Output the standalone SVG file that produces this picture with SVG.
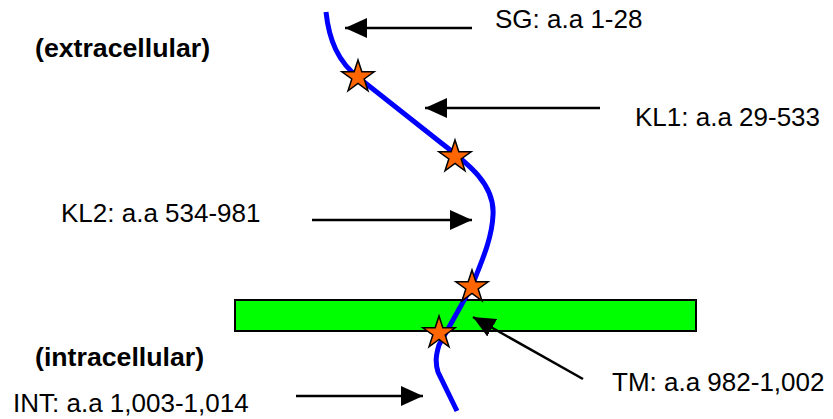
<svg xmlns="http://www.w3.org/2000/svg" width="833" height="419" viewBox="0 0 833 419">
<style>
.t{font-family:"Liberation Sans",Arial,sans-serif;font-size:26px;fill:#000}
.b{font-weight:bold;font-size:26.7px}
.arr{stroke:#000;stroke-width:2.5;fill:none;marker-end:url(#ah)}
.star{fill:#FF6600;stroke:#000;stroke-width:1.5;stroke-linejoin:miter}
</style>
<defs>
<marker id="ah" viewBox="0 0 22 20" refX="22" refY="10" markerWidth="22" markerHeight="20" markerUnits="userSpaceOnUse" orient="auto">
<path d="M0,0 L22,10 L0,20 z" fill="#000"/>
</marker>
<polygon id="st" points="0,-17 3.82,-5.26 16.17,-5.25 6.18,2.01 9.99,13.75 0,6.5 -9.99,13.75 -6.18,2.01 -16.17,-5.25 -3.82,-5.26"/>
</defs>
<rect width="833" height="419" fill="#fff"/>
<g id="membrane">
<rect x="235" y="300" width="461" height="31" fill="#00FF00" stroke="#000" stroke-width="2"/>
</g>
<g id="protein">
<path d="M326,12 C329,40 338,62 359,78 L440,142 C470,165 495,185 493,215 C492,240 480,265 472,286 L439,345 C436,355 435,362 438,372 L457,411" fill="none" stroke="#0000FF" stroke-width="5"/>
</g>
<g id="stars">
<use href="#st" class="star" transform="translate(358,77)"/>
<use href="#st" class="star" transform="translate(455,157)"/>
<use href="#st" class="star" transform="translate(472,287)"/>
<use href="#st" class="star" transform="translate(439,333)"/>
</g>
<g id="connectors">
<line class="arr" x1="472" y1="28" x2="345" y2="28"/>
<line class="arr" x1="600" y1="108" x2="425" y2="108"/>
<line class="arr" x1="312" y1="220" x2="472" y2="220"/>
<line class="arr" x1="583" y1="379" x2="473" y2="317"/>
<line class="arr" x1="296" y1="396" x2="423" y2="396"/>
</g>
<g id="labels">
<text class="t b" x="35" y="57">(extracellular)</text>
<text class="t b" x="35" y="366">(intracellular)</text>
<text class="t" x="495" y="28">SG: a.a 1-28</text>
<text class="t" x="635" y="126">KL1: a.a 29-533</text>
<text class="t" x="61" y="222">KL2: a.a 534-981</text>
<text class="t" x="612" y="391">TM: a.a 982-1,002</text>
<text class="t" x="13" y="412">INT: a.a 1,003-1,014</text>
</g>
</svg>
